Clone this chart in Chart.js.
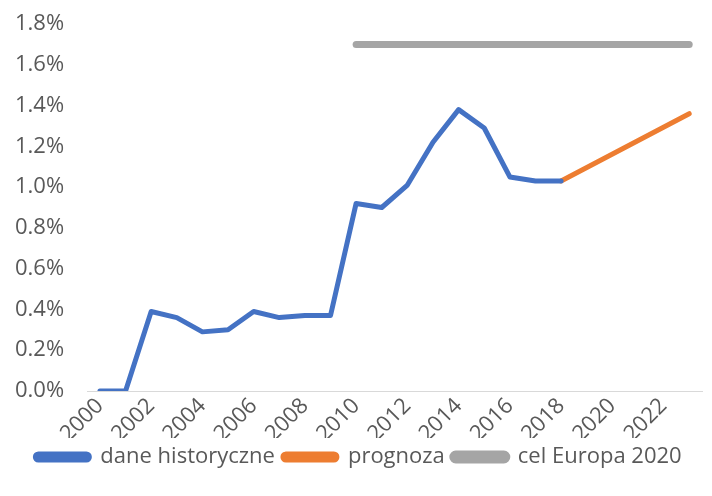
<!DOCTYPE html>
<html>
<head>
<meta charset="utf-8">
<script src="https://cdn.jsdelivr.net/npm/chart.js@4"></script>
<style>
  body { margin: 0; background: #fff; }
  #wrap { width: 712px; height: 496px; }
</style>
</head>
<body>
<div id="wrap"><canvas id="chart"></canvas></div>
<script>
// years on the x axis
const years = ['2000','2001','2002','2003','2004','2005','2006','2007','2008','2009','2010','2011',
  '2012','2013','2014','2015','2016','2017','2018','2019','2020','2021','2022','2023'];

// values in %
const historyValues = [0, 0, 0.39, 0.36, 0.29, 0.30, 0.39, 0.36, 0.37, 0.37, 0.92, 0.90,
  1.01, 1.22, 1.38, 1.29, 1.05, 1.03, 1.03, null, null, null, null, null];
// forecast is a straight line from 2018 to 2023, only the ends are read
const forecastValues = [null, null, null, null, null, null, null, null, null, null, null, null,
  null, null, null, null, null, null, 1.03, null, null, null, null, 1.36];
const targetValues = [null, null, null, null, null, null, null, null, null, null, 1.7, 1.7,
  1.7, 1.7, 1.7, 1.7, 1.7, 1.7, 1.7, 1.7, 1.7, 1.7, 1.7, 1.7];

const seriesNames = ['dane historyczne', 'prognoza', 'cel Europa 2020'];

const textColor = '#595959';
const font = { family: 'Open Sans', size: 22 };

const line = (label, data, color, width) => ({
  label: label,
  data: data,
  borderColor: color,
  backgroundColor: color,
  borderWidth: width,
  borderCapStyle: 'round',
  borderJoinStyle: 'round',
  pointRadius: 0,
  tension: 0,
  spanGaps: true,
  fill: false
});

new Chart(document.getElementById('chart'), {
  type: 'line',
  data: {
    labels: years,
    datasets: [
      line(seriesNames[0], historyValues, '#4472C4', 5),
      line(seriesNames[1], forecastValues, '#ED7D31', 5),
      line(seriesNames[2], targetValues, '#A5A5A5', 7)
    ]
  },
  options: {
    responsive: true,
    maintainAspectRatio: false,
    animation: false,
    layout: { padding: { left: 15, right: 10, top: 24, bottom: 18 } },
    scales: {
      x: {
        offset: true,
        grid: { display: false, drawTicks: false },
        border: { color: '#d9d9d9', width: 1 },
        // labels may hang a bit into the legend gap, like in the original
        afterFit: (scale) => {
          scale.paddingLeft = 0;
          scale.paddingRight = 0;
          scale.height = 47;
        },
        ticks: {
          autoSkip: false,
          maxRotation: 45,
          minRotation: 45,
          color: textColor,
          font: font,
          padding: 2,
          callback: function (value, index) {
            return index % 2 === 0 ? years[index] : '';
          }
        }
      },
      y: {
        min: 0,
        max: 1.8,
        grid: { display: false, drawTicks: false },
        border: { display: false },
        // chart.js counts the tick padding twice, drop the outer one
        afterFit: (scale) => {
          scale.paddingTop = 0;
          scale.paddingBottom = 0;
          scale.width -= scale.options.ticks.padding;
        },
        ticks: {
          stepSize: 0.2,
          color: textColor,
          font: font,
          padding: 23,
          callback: (v) => v.toFixed(1) + '%'
        }
      }
    },
    plugins: {
      tooltip: { enabled: false },
      legend: {
        position: 'bottom',
        labels: {
          color: textColor,
          font: font,
          boxWidth: 54,
          boxHeight: 6,
          padding: 8,
          useBorderRadius: true,
          borderRadius: 3
        }
      }
    }
  }
});
</script>
</body>
</html>
